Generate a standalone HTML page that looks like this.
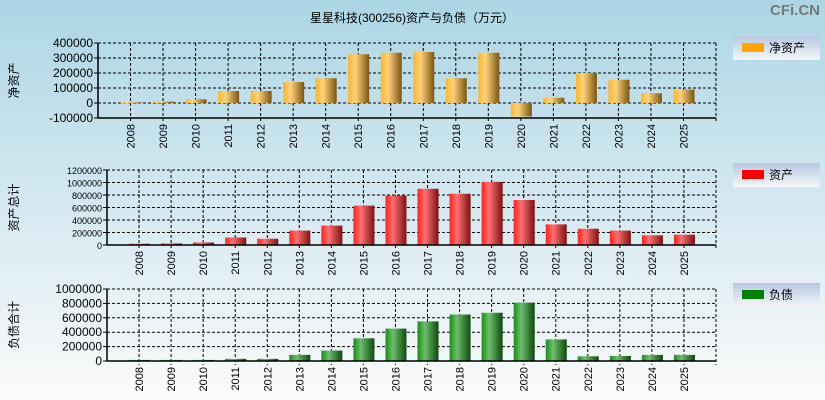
<!DOCTYPE html>
<html><head><meta charset="utf-8"><style>
body{margin:0;width:825px;height:400px;overflow:hidden;font-family:"Liberation Sans","Noto Sans CJK SC",sans-serif}
</style></head><body>
<svg id="c" width="825" height="400" xmlns="http://www.w3.org/2000/svg" style="display:block">
<defs>
<linearGradient id="bg" x1="0" y1="0" x2="0" y2="1"><stop offset="0" stop-color="#acd6e5"/><stop offset="0.6" stop-color="#dcecf3"/><stop offset="1" stop-color="#fbfbfb"/></linearGradient>
<linearGradient id="gO" x1="0" x2="1"><stop offset="0" stop-color="#ffb52a"/><stop offset="0.35" stop-color="#ffd27a"/><stop offset="1" stop-color="#7a5510"/></linearGradient>
<linearGradient id="gR" x1="0" x2="1"><stop offset="0" stop-color="#ff2020"/><stop offset="0.35" stop-color="#ff7070"/><stop offset="1" stop-color="#801010"/></linearGradient>
<linearGradient id="gG" x1="0" x2="1"><stop offset="0" stop-color="#1a8a1a"/><stop offset="0.35" stop-color="#6cbf6c"/><stop offset="1" stop-color="#0d4a0d"/></linearGradient>
<linearGradient id="lg" x1="0" y1="0" x2="0" y2="1"><stop offset="0" stop-color="#b8c8e0"/><stop offset="1" stop-color="#f4f6fa"/></linearGradient>
</defs>
<rect width="825" height="400" fill="url(#bg)"/>
<text x="412" y="22" font-size="12" text-anchor="middle">星星科技(300256)资产与负债（万元）</text>
<text x="820" y="15" font-size="15" font-weight="bold" fill="#777" text-anchor="end">CFi.CN</text>
</svg>
<script>
const years=['2008','2009','2010','2011','2012','2013','2014','2015','2016','2017','2018','2019','2020','2021','2022','2023','2024','2025'];
const netAssets=[5000,10000,25000,80000,80000,140000,165000,325000,335000,340000,165000,335000,-90000,35000,200000,155000,65000,90000];
const totalAssets=[20000,25000,40000,120000,100000,230000,310000,630000,790000,900000,820000,1010000,720000,330000,260000,230000,155000,165000];
const liabilities=[15000,15000,15000,30000,30000,85000,145000,315000,450000,550000,645000,670000,810000,300000,65000,70000,85000,85000];
const ticks1=[-100000,0,100000,200000,300000,400000];
const ticks2=[0,200000,400000,600000,800000,1000000,1200000];
const ticks3=[0,200000,400000,600000,800000,1000000];
const svg=document.getElementById('c');
const NS='http://www.w3.org/2000/svg';
function mk(t,a,p){const e=document.createElementNS(NS,t);for(const k in a)e.setAttribute(k,a[k]);(p||svg).appendChild(e);return e;}
function panel(o){
  const g=mk('g',{});
  
  
  const min=o.ticks[0],max=o.ticks[o.ticks.length-1];
  const y=v=>o.bottom-(v-min)/(max-min)*(o.bottom-o.top);
  const step=(o.right-o.left)/(years.length+1);
  const x=i=>o.left+(i+1)*step;
  // grid
  o.ticks.forEach(t=>{
    if(t!==min){const l=mk('line',{x1:o.left,x2:o.right,y1:y(t),y2:y(t),stroke:'#000','stroke-dasharray':'3,2','stroke-width':1},g);}
    const tl=mk('line',{x1:o.left-4,x2:o.left,y1:y(t),y2:y(t),stroke:'#000'},g);
    const tx=mk('text',{x:o.left-5,y:y(t)+4,'font-size':o.fs,'text-anchor':'end'},g);tx.textContent=t;
    
  });
  years.forEach((yr,i)=>{
    const l=mk('line',{x1:x(i),x2:x(i),y1:o.top,y2:o.bottom+4,stroke:'#000','stroke-dasharray':'3,2'},g);
    
  });
  mk('line',{x1:o.right,x2:o.right,y1:o.top,y2:o.bottom+4,stroke:'#000','stroke-dasharray':'3,2'},g);
  // bars
  o.data.forEach((v,i)=>{
    const y0=y(0),y1=y(v);
    const r=mk('rect',{x:x(i)-10,y:Math.min(y0,y1),width:21,height:Math.max(1,Math.abs(y1-y0)),fill:o.fill},g);
    
  });
  // axes
  mk('line',{x1:o.left,x2:o.left,y1:o.top,y2:o.bottom,stroke:'#000','stroke-width':1.5},g);
  mk('line',{x1:o.left,x2:o.right,y1:o.bottom,y2:o.bottom,stroke:'#000','stroke-width':1.5},g);
  years.forEach((yr,i)=>{
    const t=mk('text',{x:0,y:0,'font-size':11,'text-anchor':'end',transform:`translate(${x(i)+4},${o.bottom+6}) rotate(-90)`},g);
    t.textContent=yr;
  });
  const at=mk('text',{x:0,y:0,'font-size':12,'text-anchor':'middle',transform:`translate(18,${(o.top+o.bottom)/2}) rotate(-90)`},g);
  at.textContent=o.axis;
  // legend
  const lg=mk('g',{},g);
  
  mk('rect',{x:733,y:o.ly,width:87,height:24,fill:'url(#lg)'},lg);
  mk('rect',{x:742,y:o.ly+7,width:22,height:9,fill:o.sw},lg);
  const lt=mk('text',{x:769,y:o.ly+16,'font-size':12},lg);lt.textContent=o.label;
}
panel({name:'net-assets-panel',left:98,right:716,top:43,bottom:118,ticks:ticks1,data:netAssets,fill:'url(#gO)',sw:'#ffa500',axis:'净资产',label:'净资产',ly:36,fs:12});
panel({name:'total-assets-panel',left:107,right:716,top:170,bottom:245,ticks:ticks2,data:totalAssets,fill:'url(#gR)',sw:'#ff0000',axis:'资产总计',label:'资产',ly:163,fs:9});
panel({name:'liabilities-panel',left:107,right:716,top:289,bottom:361,ticks:ticks3,data:liabilities,fill:'url(#gG)',sw:'#008000',axis:'负债合计',label:'负债',ly:283,fs:12});
</script>
</body></html>
